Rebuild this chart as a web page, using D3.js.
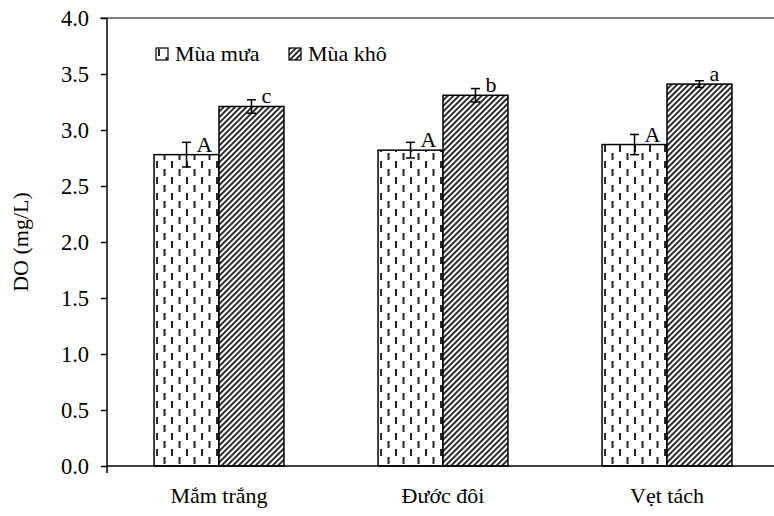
<!DOCTYPE html>
<html>
<head>
<meta charset="utf-8">
<script src="https://cdn.jsdelivr.net/npm/d3@7/dist/d3.min.js"></script>
<style>
  html, body { margin: 0; padding: 0; background: #fff; }
  svg { display: block; }
  svg text { font-family: "Liberation Serif", "Times New Roman", serif; fill: #000; }
</style>
</head>
<body>
<svg id="chart" width="774" height="516"></svg>
<script>
// Dissolved oxygen by mangrove type, rainy vs dry season
const categories = ["Mắm trắng", "Đước đôi", "Vẹt tách"];
const seriesNames = ["Mùa mưa", "Mùa khô"];
const rainyValues = [2.78, 2.82, 2.87];
const dryValues = [3.21, 3.31, 3.41];
const rainyErrors = [0.11, 0.07, 0.09];
const dryErrors = [0.06, 0.06, 0.03];
const rainyLetters = ["A", "A", "A"];
const dryLetters = ["c", "b", "a"];
const yTickValues = [0, 0.5, 1, 1.5, 2, 2.5, 3, 3.5, 4];

const svg = d3.select("#chart");
const plotLeft = 107, plotRight = 779, plotTop = 18, plotBottom = 466;
const serif = "Liberation Serif";

// Fill patterns: staggered vertical dashes (rainy) and diagonal hatch (dry)
const defs = svg.append("defs");
const dash = defs.append("pattern")
  .attr("id", "pat-rain").attr("patternUnits", "userSpaceOnUse")
  .attr("width", 15).attr("height", 16);
dash.append("rect").attr("width", 15).attr("height", 16).attr("fill", "#fff");
dash.append("rect").attr("x", 2).attr("y", 1).attr("width", 2).attr("height", 7).attr("fill", "#222");
dash.append("rect").attr("x", 9.5).attr("y", 9).attr("width", 2).attr("height", 7).attr("fill", "#222");

const hatch = defs.append("pattern")
  .attr("id", "pat-dry").attr("patternUnits", "userSpaceOnUse")
  .attr("width", 4).attr("height", 4)
  .attr("patternTransform", "rotate(45)");
hatch.append("rect").attr("width", 4).attr("height", 4).attr("fill", "#fff");
hatch.append("rect").attr("x", 0).attr("y", 0).attr("width", 1.9).attr("height", 4).attr("fill", "#222");

const fills = ["url(#pat-rain)", "url(#pat-dry)"];

const x0 = d3.scaleBand().domain(categories).range([plotLeft, plotRight])
  .paddingInner(0.42).paddingOuter(0.21);
const x1 = d3.scaleBand().domain(seriesNames).range([0, x0.bandwidth()]);
const y = d3.scaleLinear().domain([0, 4]).range([plotBottom, plotTop]);

const rows = categories.map((c, i) => ({
  cat: c,
  items: [
    { s: seriesNames[0], v: rainyValues[i], e: rainyErrors[i], l: rainyLetters[i], f: fills[0] },
    { s: seriesNames[1], v: dryValues[i], e: dryErrors[i], l: dryLetters[i], f: fills[1] }
  ]
}));

// Top frame line
svg.append("line")
  .attr("x1", plotLeft - 7).attr("x2", 774).attr("y1", plotTop).attr("y2", plotTop)
  .attr("stroke", "#808080").attr("stroke-width", 2);

// Bars
const groups = svg.append("g").selectAll("g").data(rows).join("g")
  .attr("transform", d => `translate(${x0(d.cat)},0)`);

groups.selectAll("rect").data(d => d.items).join("rect")
  .attr("x", d => x1(d.s))
  .attr("y", d => y(d.v))
  .attr("width", x1.bandwidth())
  .attr("height", d => y(0) - y(d.v))
  .attr("fill", d => d.f)
  .attr("stroke", "#000").attr("stroke-width", 1.5);

// Error bars
const eb = groups.selectAll("g.err").data(d => d.items).join("g").attr("class", "err")
  .attr("transform", d => `translate(${x1(d.s) + x1.bandwidth() / 2},0)`)
  .attr("stroke", "#000").attr("stroke-width", 1.5);
eb.append("line").attr("y1", d => y(d.v + d.e)).attr("y2", d => y(d.v - d.e));
eb.append("line").attr("x1", -4.5).attr("x2", 4.5).attr("y1", d => y(d.v + d.e)).attr("y2", d => y(d.v + d.e));
eb.append("line").attr("x1", -4.5).attr("x2", 4.5).attr("y1", d => y(d.v - d.e)).attr("y2", d => y(d.v - d.e));

// Significance letters
groups.selectAll("text.sig").data(d => d.items).join("text").attr("class", "sig")
  .attr("x", d => x1(d.s) + x1.bandwidth() / 2 + 10)
  .attr("y", d => y(d.v) - 3)
  .attr("font-family", serif)
  .attr("font-size", 22)
  .text(d => d.l);

// Y axis
const yAxis = d3.axisLeft(y).tickValues(yTickValues).tickFormat(d3.format(".1f"))
  .tickSize(6).tickPadding(12);
const gy = svg.append("g").attr("transform", `translate(${plotLeft},0)`).call(yAxis);
gy.attr("font-family", serif);
gy.select(".domain").attr("stroke-width", 1.5).attr("d", `M0,${plotTop}V${plotBottom}`);
gy.selectAll(".tick line").attr("stroke-width", 1.5);
gy.selectAll("text").attr("font-size", 22.5).attr("font-family", serif).attr("fill", "#000");

// X axis line and labels
svg.append("line").attr("x1", plotLeft).attr("x2", 774).attr("y1", plotBottom).attr("y2", plotBottom)
  .attr("stroke", "#000").attr("stroke-width", 1.5);
svg.append("line").attr("x1", plotLeft).attr("x2", plotLeft).attr("y1", plotBottom).attr("y2", plotBottom + 7)
  .attr("stroke", "#000").attr("stroke-width", 1.5);
svg.append("g").selectAll("text").data(categories).join("text")
  .attr("x", d => x0(d) + x0.bandwidth() / 2)
  .attr("y", 503)
  .attr("text-anchor", "middle")
  .attr("font-family", serif)
  .attr("font-size", 22)
  .text(d => d);

// Y axis title
svg.append("text")
  .attr("transform", `translate(28,${(plotTop + plotBottom) / 2}) rotate(-90)`)
  .attr("text-anchor", "middle")
  .attr("font-family", serif)
  .attr("font-size", 22)
  .text("DO (mg/L)");

// Legend
const legend = svg.append("g").selectAll("g").data(seriesNames).join("g")
  .attr("transform", (d, i) => `translate(${[156, 289][i]},48)`);
legend.append("rect").attr("width", 12).attr("height", 12)
  .attr("fill", (d, i) => fills[i]).attr("stroke", "#000").attr("stroke-width", 1.2);
legend.append("text").attr("x", 19).attr("y", 12.5)
  .attr("font-family", serif).attr("font-size", 22).text(d => d);
</script>
</body>
</html>
